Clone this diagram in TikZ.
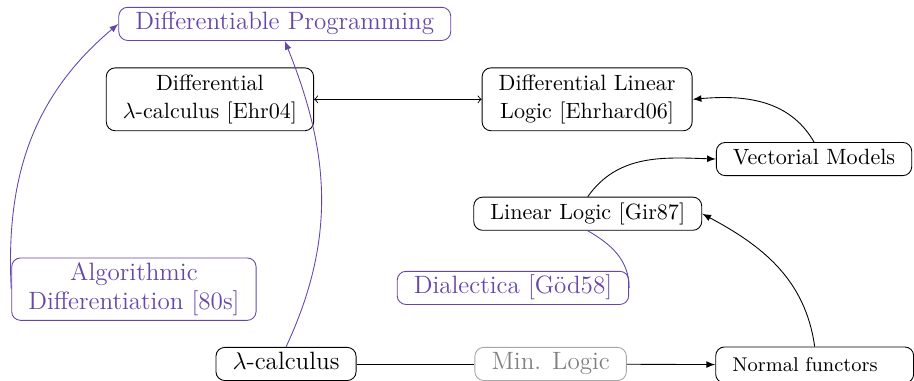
\documentclass[tikz,border=0pt]{standalone}
\usepackage{amssymb}
\usepackage{amsmath}
\usepackage{xcolor}
\usepackage{tikz}
\usetikzlibrary{arrows,shapes,positioning}

\definecolor{dpurple}{RGB}{102,70,168}

\newcommand{\bigtxt}{\fontsize{11.35}{12.7}\selectfont}
\newcommand{\midtxt}{\fontsize{10}{12.7}\selectfont}

\tikzset{
	box/.style={draw, rounded corners=4pt, align=center, inner xsep=7.5pt, inner ysep=2.5pt},
	oneline/.style={text height=0.75em, text depth=0.25em},
	pbox/.style={box, draw=dpurple, text=dpurple, font=\bigtxt},
	gbox/.style={box, oneline, draw=gray!70, text=gray, font=\bigtxt},
}

\begin{document}
\begin{tikzpicture}
				\useasboundingbox (0,0) rectangle (14.54,6.06);
				
				\node [pbox, oneline] (diffprog) at (4.53,5.68) {Differentiable Programming};
				\node [box, font=\midtxt, inner ysep=3.1pt] (dlambda) at (3.34,4.48) {Differential\\$\lambda$-calculus [Ehr04]};
				\node [box, font=\midtxt, inner ysep=3.1pt] (dll) at (9.34,4.48) {Differential Linear\\Logic [Ehrhard06]};
				\node [box, oneline] (vect) at (12.95,3.53) {Vectorial Models};
				\node [box, oneline] (ll) at (9.35,2.66) {Linear Logic [Gir87]};
				\node [pbox, oneline] (dial) at (8.16,1.48) {Dialectica [G\"od58]};
				\node [pbox, inner ysep=2.3pt] (algo) at (2.13,1.46) {Algorithmic\\Differentiation [80s]};
				\node [box, oneline, font=\bigtxt] (lambda) at (4.55,0.27) {$\lambda$-calculus};
				\node [gbox] (minlogic) at (8.76,0.27) {Min. Logic};
				\node [box, font=\small, align=left, text width=74.6pt, minimum height=16.3pt] (normal) at (12.96,0.254) {Normal functors};
				
				\draw [<->] (dlambda) -- (dll);
				\draw [-latex] (vect.north) to [out=120, in=5] (dll.east);
				\draw [-latex] (ll.north) to [out=55, in=178] (vect.west);
				\draw [-latex] (normal.north) to [out=98, in=-28] (ll.east);
				\draw [-] (lambda) -- (minlogic);
				\draw [-latex] (minlogic) -- (normal);
				
				\draw [dpurple, -latex] (lambda.north) to [out=65, in=-68] (diffprog.south);
				\draw [dpurple, -latex] (algo.west) to [out=93, in=-140] (diffprog.west);
				\draw [dpurple] (ll.south) to [out=-30, in=90] (dial.east);
\end{tikzpicture}
\end{document}
